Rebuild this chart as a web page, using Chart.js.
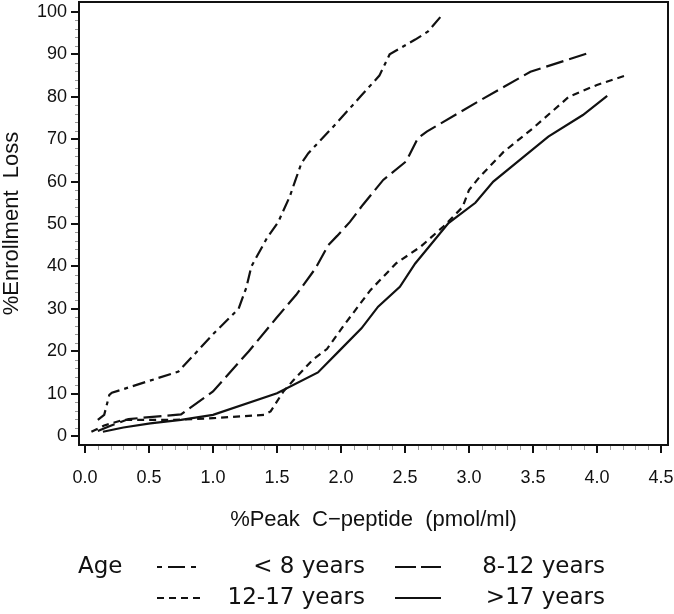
<!DOCTYPE html>
<html>
<head>
<meta charset="utf-8">
<script src="https://cdn.jsdelivr.net/npm/chart.js@4"></script>
<style>
  body { margin: 0; background: #fff; }
  #wrap { width: 674px; height: 614px; }
</style>
</head>
<body>
<div id="wrap"><canvas id="chart" width="674" height="614"></canvas></div>
<script>
var ageGroups = ['< 8 years', '8-12 years', '12-17 years', '>17 years'];

var xUnder8 = [0.10, 0.15, 0.19, 0.21, 0.73, 1.00, 1.20, 1.26, 1.30, 1.42, 1.51, 1.60, 1.64, 1.69, 1.745, 1.95, 2.15, 2.30, 2.38, 2.58, 2.68, 2.79];
var yUnder8 = [3.8, 5.0, 9.7, 10.2, 15.2, 24.0, 30.0, 35.0, 40.0, 46.6, 50.5, 56.5, 60.0, 64.3, 66.7, 73.3, 80.0, 85.0, 90.0, 93.5, 95.4, 99.3];

var x8to12 = [0.10, 0.20, 0.34, 0.75, 1.00, 1.28, 1.50, 1.65, 1.80, 1.90, 1.97, 2.07, 2.17, 2.33, 2.51, 2.60, 2.67, 3.09, 3.48, 3.92];
var y8to12 = [1.2, 2.4, 4.0, 5.1, 10.5, 20.0, 28.0, 33.3, 39.5, 45.0, 47.2, 50.5, 54.5, 60.4, 64.8, 70.2, 71.8, 79.2, 85.9, 90.2];

var x12to17 = [0.05, 0.15, 0.30, 0.70, 1.00, 1.40, 1.45, 1.55, 1.63, 1.78, 1.89, 2.02, 2.23, 2.43, 2.62, 2.80, 2.95, 3.00, 3.08, 3.27, 3.50, 3.78, 4.00, 4.23];
var y12to17 = [1.0, 2.5, 3.8, 3.8, 4.2, 5.0, 5.8, 10.5, 13.2, 18.0, 20.5, 26.0, 34.4, 40.7, 44.6, 49.4, 54.0, 58.0, 61.0, 67.0, 72.6, 80.0, 82.8, 85.1];

var xOver17 = [0.14, 0.30, 0.51, 0.75, 1.00, 1.50, 1.82, 1.99, 2.16, 2.29, 2.46, 2.58, 2.84, 3.05, 3.19, 3.62, 3.89, 4.08];
var yOver17 = [1.0, 2.0, 3.0, 3.8, 5.0, 10.1, 15.0, 20.2, 25.4, 30.5, 35.2, 40.7, 50.2, 55.0, 60.0, 70.6, 75.7, 80.2];

var xTicks = [0, 0.5, 1, 1.5, 2, 2.5, 3, 3.5, 4, 4.5];
var yTicks = [0, 10, 20, 30, 40, 50, 60, 70, 80, 90, 100];

function pts(xs, ys) {
    return xs.map(function (x, i) { return { x: x, y: ys[i] }; });
}

var ink = '#111';

// frame, minor ticks and the two-column legend
var extras = {
    id: 'extras',
    afterDraw: function (chart) {
        var ctx = chart.ctx;
        var a = chart.chartArea;
        var xs = chart.scales.x, ys = chart.scales.y;
        ctx.save();

        ctx.strokeStyle = ink;
        ctx.lineWidth = 2;
        ctx.strokeRect(a.left, a.top, a.right - a.left, a.bottom - a.top);

        ctx.strokeStyle = '#999';
        ctx.lineWidth = 1;
        ctx.beginPath();
        for (var v = 0; v <= 45; v++) {
            if (v % 5 === 0) continue;
            var px = Math.round(xs.getPixelForValue(v / 10)) + 0.5;
            ctx.moveTo(px, a.bottom + 1);
            ctx.lineTo(px, a.bottom + 5);
        }
        for (var w = 0; w <= 100; w += 2) {
            if (w % 10 === 0) continue;
            var py = Math.round(ys.getPixelForValue(w)) + 0.5;
            ctx.moveTo(a.left - 1, py);
            ctx.lineTo(a.left - 4, py);
        }
        ctx.stroke();

        ctx.fillStyle = ink;
        ctx.font = '23px "DejaVu Sans"';
        ctx.textBaseline = 'middle';
        ctx.textAlign = 'left';
        ctx.fillText('Age', 78, 567);

        var sampleX = [157, 395], labelEnd = [365, 605], rowY = [567, 598];
        chart.data.datasets.forEach(function (ds, i) {
            var col = i % 2, row = Math.floor(i / 2);
            var y = rowY[row];
            ctx.strokeStyle = ink;
            ctx.lineWidth = 2;
            ctx.setLineDash(ds.legendDash);
            ctx.beginPath();
            ctx.moveTo(sampleX[col], y);
            ctx.lineTo(sampleX[col] + 46, y);
            ctx.stroke();
            ctx.setLineDash([]);
            ctx.textAlign = 'right';
            ctx.fillText(ds.label, labelEnd[col], y);
        });
        ctx.restore();
    }
};

var tickFont = { family: 'Liberation Sans', size: 18 };
var titleFont = { family: 'Liberation Sans', size: 22, lineHeight: 1 };

var chart = new Chart(document.getElementById('chart').getContext('2d'), {
    type: 'line',
    data: {
        datasets: [{
            label: ageGroups[0],
            data: pts(xUnder8, yUnder8),
            borderDash: [13, 5, 4, 5],
            legendDash: [5, 6, 17, 6, 5, 100]
        }, {
            label: ageGroups[1],
            data: pts(x8to12, y8to12),
            borderDash: [18, 6],
            legendDash: [21, 5, 20, 100]
        }, {
            label: ageGroups[2],
            data: pts(x12to17, y12to17),
            borderDash: [7, 5],
            legendDash: [7, 5]
        }, {
            label: ageGroups[3],
            data: pts(xOver17, yOver17),
            borderDash: [],
            legendDash: []
        }]
    },
    options: {
        responsive: false,
        animation: false,
        layout: { padding: { top: 2, right: 6, bottom: 83, left: 0 } },
        elements: {
            line: { borderColor: ink, borderWidth: 2.2, tension: 0, fill: false },
            point: { radius: 0, hoverRadius: 0 }
        },
        plugins: {
            legend: { display: false },
            tooltip: { enabled: false }
        },
        scales: {
            x: {
                type: 'linear',
                position: 'bottom',
                min: -0.047,
                max: 4.555,
                afterBuildTicks: function (s) { s.ticks = xTicks.map(function (v) { return { value: v }; }); },
                afterFit: function (s) { s.height = 86; s.paddingLeft = 0; s.paddingRight = 0; },
                ticks: {
                    font: tickFont,
                    color: '#111',
                    padding: 14,
                    maxRotation: 0,
                    callback: function (v) { return Number(v).toFixed(1); }
                },
                grid: { drawOnChartArea: false, drawTicks: true, tickLength: 8, color: ink, lineWidth: 2 },
                border: { display: false },
                title: { display: true, text: '%Peak  C\u2212peptide  (pmol/ml)', font: titleFont, color: ink, padding: 0 }
            },
            y: {
                type: 'linear',
                min: -2.12,
                max: 102.36,
                afterBuildTicks: function (s) { s.ticks = yTicks.map(function (v) { return { value: v }; }); },
                afterFit: function (s) { s.width = 79; s.paddingTop = 0; s.paddingBottom = 0; },
                ticks: { font: tickFont, color: '#111', padding: 4 },
                grid: { drawOnChartArea: false, drawTicks: true, tickLength: 8, color: ink, lineWidth: 2 },
                border: { display: false },
                title: { display: true, text: '%Enrollment  Loss', font: titleFont, color: ink, padding: { top: 1, bottom: 0 } }
            }
        }
    },
    plugins: [extras]
});
</script>
</body>
</html>
